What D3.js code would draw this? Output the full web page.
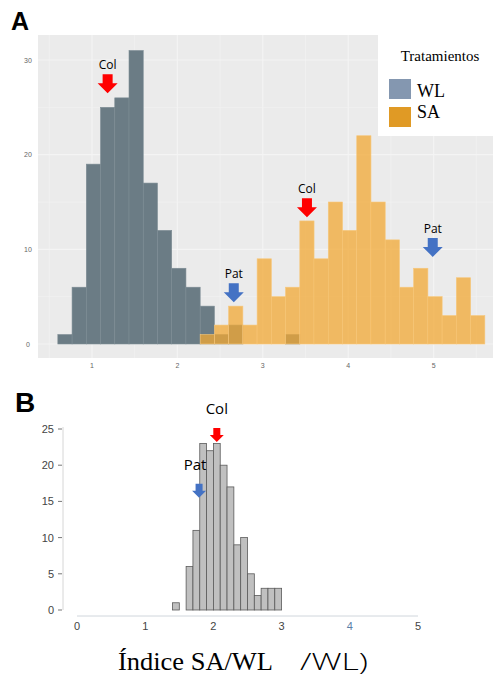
<!DOCTYPE html>
<html>
<head>
<meta charset="utf-8">
<script src="https://cdn.jsdelivr.net/npm/d3@7"></script>
<style>
  body { margin: 0; background: #fff; }
  svg { display: block; }
</style>
</head>
<body>
<div id="chart"></div>
<script>
// ---- panel A: histograms WL vs SA ----
const binStartA = 0.6
const binWidthA = 1 / 6
const wlCounts = [1, 6, 19, 25, 26, 31, 17, 12, 8, 6, 4, 1, 2, 0, 0, 0, 1]
const saCounts = [0, 0, 0, 0, 0, 0, 0, 0, 0, 0,
                  1, 2, 4, 2, 9, 5, 6, 13, 9, 15,
                  12, 22, 15, 11, 6, 8, 5, 3, 7, 3]
const xTicksA = [1, 2, 3, 4, 5]
const yTicksA = [0, 10, 20, 30]
const legendNames = ["WL", "SA"]
const legendColors = ["#8497b0", "#e09a25"]
// arrows: x in data units, level = count where the arrow tip sits
const arrowsA = [
    {label: "Col", color: "#ff0000", x: 1.183, level: 26.5},
    {label: "Pat", color: "#4472c4", x: 2.66, level: 4.4},
    {label: "Col", color: "#ff0000", x: 3.517, level: 13.4},
    {label: "Pat", color: "#4472c4", x: 4.99, level: 9.2}
]

// ---- panel B: SA/WL index ----
const binStartB = 1.4
const binWidthB = 0.1
const ratioCounts = [1, 0, 6, 11, 23, 22, 23, 20, 17, 9, 10, 5, 2, 3, 3, 3]
const xTicksB = [0, 1, 2, 3, 4, 5]
const yTicksB = [0, 5, 10, 15, 20, 25]
const arrowsB = [
    {label: "Col", color: "#ff0000", x: 2.05, level: 23.2, dx: 0},
    {label: "Pat", color: "#4472c4", x: 1.79, level: 15.5, dx: -4}
]

const W = 493, H = 677
const svg = d3.select("#chart").append("svg")
    .attr("width", W)
    .attr("height", H)

function arrowPath(cx, tipY, len, shaftW, headW, headH) {
    const top = tipY - len
    const neck = tipY - headH
    return `M${cx - shaftW / 2},${top} L${cx + shaftW / 2},${top} L${cx + shaftW / 2},${neck} ` +
        `L${cx + headW / 2},${neck} L${cx},${tipY} L${cx - headW / 2},${neck} L${cx - shaftW / 2},${neck} Z`
}

// ================= PANEL A =================
const xA = d3.scaleLinear().domain([1, 5]).range([92, 433.6])
const yA = d3.scaleLinear().domain([0, 30]).range([344, 60])

svg.append("text")
    .attr("x", 11).attr("y", 30)
    .style("font", "bold 25px Arial, 'Liberation Sans', sans-serif")
    .text("A")

// panel background
svg.append("rect")
    .attr("x", 38).attr("y", 35)
    .attr("width", W - 38).attr("height", 323)
    .attr("fill", "#ebebeb")

const gridA = svg.append("g").attr("stroke", "#f4f4f4")
d3.range(0.5, 5.6, 0.5).forEach(v => {
    gridA.append("line")
        .attr("x1", xA(v)).attr("x2", xA(v))
        .attr("y1", 35).attr("y2", 358)
        .attr("stroke-width", v % 1 === 0 ? 1.1 : 0.6)
})
d3.range(0, 31, 5).forEach(v => {
    gridA.append("line")
        .attr("x1", 38).attr("x2", W)
        .attr("y1", yA(v)).attr("y2", yA(v))
        .attr("stroke-width", v % 10 === 0 ? 1.1 : 0.6)
})

// WL bars
svg.append("g")
    .selectAll("rect")
    .data(wlCounts.map((c, i) => ({i, c})).filter(d => d.c > 0))
    .join("rect")
    .attr("x", d => xA(binStartA + d.i * binWidthA))
    .attr("width", d => xA(binStartA + (d.i + 1) * binWidthA) - xA(binStartA + d.i * binWidthA))
    .attr("y", d => yA(d.c))
    .attr("height", d => yA(0) - yA(d.c))
    .attr("fill", "#6b7c85")
    .attr("stroke", "#7d8c94")
    .attr("stroke-width", 0.6)

// SA bars (semi transparent, on top)
svg.append("g")
    .selectAll("rect")
    .data(saCounts.map((c, i) => ({i, c})).filter(d => d.c > 0))
    .join("rect")
    .attr("x", d => xA(binStartA + d.i * binWidthA))
    .attr("width", d => xA(binStartA + (d.i + 1) * binWidthA) - xA(binStartA + d.i * binWidthA))
    .attr("y", d => yA(d.c))
    .attr("height", d => yA(0) - yA(d.c))
    .attr("fill", "#f2a834")
    .attr("fill-opacity", 0.75)
    .attr("stroke", "#f7c77a")
    .attr("stroke-width", 0.6)

// blurry tick labels
svg.append("g")
    .selectAll("text")
    .data(yTicksA)
    .join("text")
    .attr("x", 28).attr("y", d => yA(d) + 2.5)
    .attr("text-anchor", "middle")
    .attr("fill", "#666")
    .style("font", "7px Arial, sans-serif")
    .text(d => d)

svg.append("g")
    .selectAll("text")
    .data(xTicksA)
    .join("text")
    .attr("x", d => xA(d)).attr("y", 368)
    .attr("text-anchor", "middle")
    .attr("fill", "#666")
    .style("font", "7px Arial, sans-serif")
    .text(d => d)

// arrows A
arrowsA.forEach(a => {
    const cx = xA(a.x), tip = yA(a.level)
    svg.append("path")
        .attr("d", arrowPath(cx, tip, 19, 10, 20, 10))
        .attr("fill", a.color)
    svg.append("text")
        .attr("x", cx).attr("y", tip - 19 - 5)
        .attr("text-anchor", "middle")
        .style("font", "12px 'Open Sans', 'Noto Sans', sans-serif")
        .text(a.label)
})

// legend
const leg = svg.append("g")
leg.append("rect")
    .attr("x", 378).attr("y", 35)
    .attr("width", W - 378).attr("height", 101)
    .attr("fill", "#fff")
leg.append("text")
    .attr("x", 440).attr("y", 61)
    .attr("text-anchor", "middle")
    .style("font", "15px 'Liberation Serif', 'DejaVu Serif', serif")
    .text("Tratamientos")
legendNames.forEach((n, i) => {
    leg.append("rect")
        .attr("x", 389).attr("y", 79 + i * 28)
        .attr("width", 22).attr("height", 20)
        .attr("fill", legendColors[i])
    leg.append("text")
        .attr("x", 417).attr("y", 97 + i * 21)
        .style("font", "18px 'Liberation Serif', 'DejaVu Serif', serif")
        .text(n)
})

// ================= PANEL B =================
const xB = d3.scaleLinear().domain([0, 5]).range([77, 418])
const yB = d3.scaleLinear().domain([0, 25]).range([610, 429])

svg.append("text")
    .attr("x", 15).attr("y", 412)
    .style("font", "bold 28px Arial, 'Liberation Sans', sans-serif")
    .text("B")

// axes lines
svg.append("line")
    .attr("x1", 63).attr("x2", 63)
    .attr("y1", yB(25) - 2).attr("y2", yB(0))
    .attr("stroke", "#d6d6d6")
svg.append("line")
    .attr("x1", xB(0)).attr("x2", xB(5))
    .attr("y1", 616).attr("y2", 616)
    .attr("stroke", "#d0d6dc")

const yAxB = svg.append("g")
yTicksB.forEach(v => {
    yAxB.append("line")
        .attr("x1", 58).attr("x2", 62)
        .attr("y1", yB(v)).attr("y2", yB(v))
        .attr("stroke", "#777")
    yAxB.append("text")
        .attr("x", 54).attr("y", yB(v) + 4)
        .attr("text-anchor", "end")
        .attr("fill", "#444")
        .style("font", "11px Arial, 'Liberation Sans', sans-serif")
        .text(v)
})
svg.append("g")
    .selectAll("text")
    .data(xTicksB)
    .join("text")
    .attr("x", d => xB(d)).attr("y", 630)
    .attr("text-anchor", "middle")
    .attr("fill", d => d === 4 ? "#5b7fa8" : "#444")
    .style("font", "11px Arial, 'Liberation Sans', sans-serif")
    .text(d => d)

svg.append("g")
    .selectAll("rect")
    .data(ratioCounts.map((c, i) => ({i, c})).filter(d => d.c > 0))
    .join("rect")
    .attr("x", d => xB(binStartB + d.i * binWidthB))
    .attr("width", d => xB(binStartB + (d.i + 1) * binWidthB) - xB(binStartB + d.i * binWidthB))
    .attr("y", d => yB(d.c))
    .attr("height", d => yB(0) - yB(d.c))
    .attr("fill", "#c0c0c0")
    .attr("stroke", "#5a5a5a")
    .attr("stroke-width", 0.8)

arrowsB.forEach(a => {
    const cx = xB(a.x), tip = yB(a.level)
    svg.append("path")
        .attr("d", arrowPath(cx, tip, 14, 7, 14, 7))
        .attr("fill", a.color)
    svg.append("text")
        .attr("x", cx + a.dx).attr("y", tip - 14 - 14)
        .attr("text-anchor", "middle")
        .style("font", "15px 'Open Sans', 'Noto Sans', sans-serif")
        .text(a.label)
})

// axis title
svg.append("text")
    .attr("x", 118).attr("y", 670)
    .attr("textLength", 155)
    .attr("lengthAdjust", "spacingAndGlyphs")
    .style("font", "25px 'Liberation Serif', 'DejaVu Serif', serif")
    .text("Índice SA/WL")
svg.append("text")
    .attr("x", 300).attr("y", 670)
    .attr("textLength", 68)
    .attr("lengthAdjust", "spacingAndGlyphs")
    .style("font", "300 23px 'Open Sans', 'Noto Sans', sans-serif")
    .text("/WL)")
</script>
</body>
</html>
